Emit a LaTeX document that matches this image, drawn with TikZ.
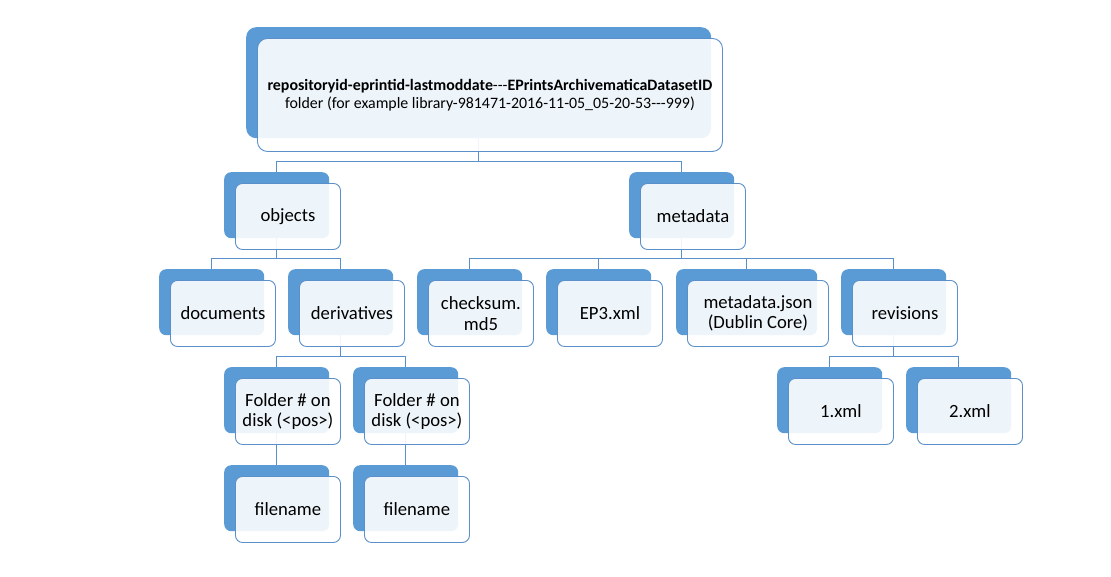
\documentclass[tikz,border=0pt]{standalone}
\usepackage{fontspec}
\setmainfont{Carlito}
\usetikzlibrary{backgrounds}
\definecolor{ablue}{HTML}{5B9BD5}
\definecolor{aline}{HTML}{5A8FC9}
\tikzset{
  backbox/.style={draw=none, fill=ablue, rounded corners=7pt, inner sep=0pt},
  frontbox/.style={draw=aline, line width=0.9pt, fill=white, fill opacity=0.9, rounded corners=7pt, inner sep=0pt},
  txt/.style={align=center, inner sep=0pt, text=black, font=\fontsize{18.67}{20.5}\selectfont},
  conn/.style={draw=aline, line width=0.9pt},
}
\newcommand\elem[6]{%
  \node[backbox, minimum width=#4pt, minimum height=#5pt, anchor=north west] (#1) at (#2,#3) {};
  \node[frontbox, minimum width=#4pt, minimum height=#5pt, anchor=north west] (#1f) at (#2+11,#3+11) {};
  \node[txt] (#1t) at (#1f.center) {#6};
}
\begin{document}
\begin{tikzpicture}[x=1pt,y=-1pt]
\useasboundingbox (0,0) rectangle (1111,576);
\node[backbox, minimum width=465pt, minimum height=111pt, anchor=north west, rounded corners=10pt] (root) at (246,27) {};
\node[frontbox, minimum width=465pt, minimum height=113pt, anchor=north west, rounded corners=10pt] (rootf) at (257,38) {};
\node[txt, font=\fontsize{15.9}{18}\selectfont] (roott) at (rootf.center) {{\bfseries repositoryid-eprintid-lastmoddate}-{}-{}-{\bfseries EPrintsArchivematicaDatasetID}\\folder (for example library-981471-2016-11-05\_05-20-53-{}-{}-999)};
\elem{objects}{224}{172}{105}{66}{objects}
\elem{metadata}{629}{172}{105}{66}{metadata}
\elem{documents}{159}{269}{105}{66}{documents}
\elem{derivatives}{288}{269}{105}{66}{derivatives}
\elem{checksum}{417}{269}{105}{66}{checksum.\\md5}
\elem{ep}{546}{269}{105}{66}{EP3.xml}
\elem{mjson}{676}{269}{141}{66}{metadata.json\\(Dublin Core)}
\elem{revisions}{841}{269}{105}{66}{revisions}
\elem{folderA}{224}{367}{105}{66}{Folder \# on\\disk (<pos>)}
\elem{folderB}{353}{367}{105}{66}{Folder \# on\\disk (<pos>)}
\elem{fileA}{224}{465}{105}{66}{filename}
\elem{fileB}{353}{465}{105}{66}{filename}
\elem{xmlA}{777}{367}{105}{66}{1.xml}
\elem{xmlB}{906}{367}{105}{66}{2.xml}
\begin{pgfonlayer}{background}
\foreach \p/\c in {root/objects, root/metadata, objects/documents, objects/derivatives,
  metadata/checksum, metadata/ep, metadata/mjson, metadata/revisions,
  derivatives/folderA, derivatives/folderB, revisions/xmlA, revisions/xmlB}
  \draw[conn] (\p.south) |- ([yshift=11pt]\c.north) -- (\c.north);
\draw[conn] (folderA.south) -- (fileA.north);
\draw[conn] (folderB.south) -- (fileB.north);
\end{pgfonlayer}
\end{tikzpicture}
\end{document}
